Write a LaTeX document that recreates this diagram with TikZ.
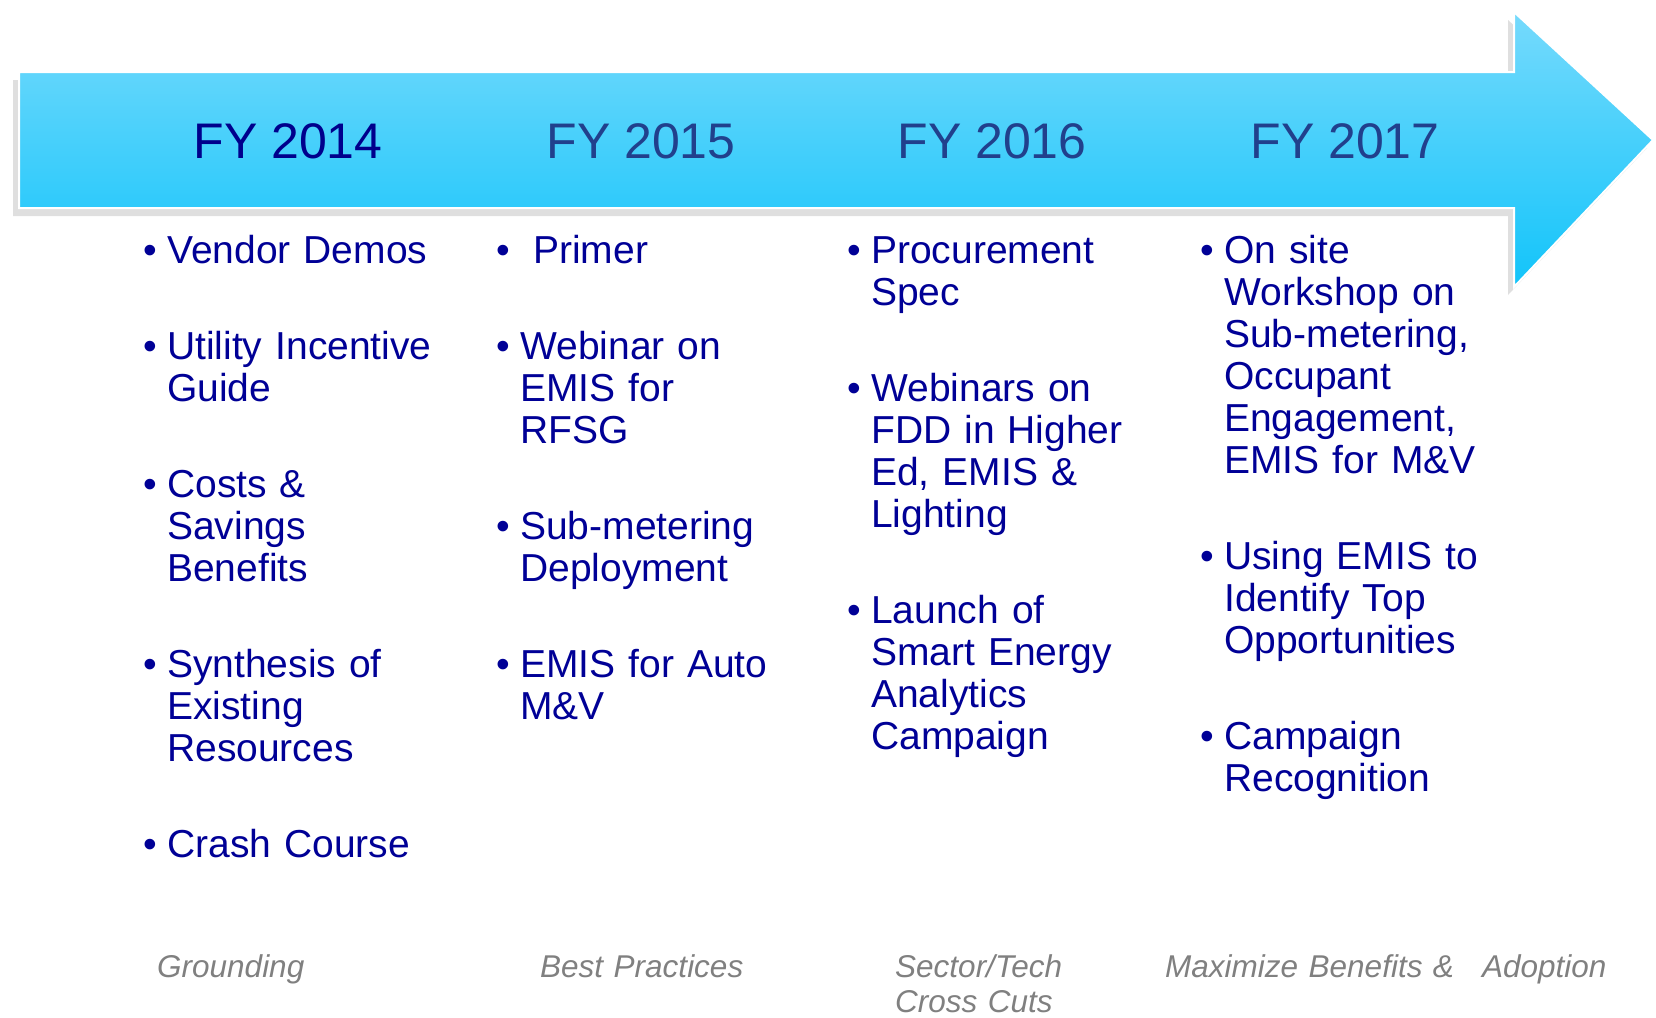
\documentclass[tikz,border=0pt]{standalone}
\usepackage{fontspec}
\setmainfont{Liberation Sans}
\usetikzlibrary{shadows}
\definecolor{itemblue}{RGB}{0,0,150}
\definecolor{yearblue}{RGB}{33,64,140}
\definecolor{yearnavy}{RGB}{0,0,140}
\definecolor{arrowtop}{RGB}{118,218,252}
\definecolor{arrowbot}{RGB}{18,196,250}
\newcommand\bul{\leavevmode\llap{\textbullet\hspace{10pt}}}
\newcommand\gap{\par\vspace{54pt}}
\begin{document}
\begin{tikzpicture}
    [x=1pt, y=-1pt,
    item/.style={anchor=base west, inner sep=0pt, text width=300pt, align=left,
      text=itemblue, font=\fontsize{39}{42}\selectfont},
    year/.style={anchor=base, inner sep=0pt, text=yearblue, font=\fontsize{50}{55}\selectfont},
    phase/.style={anchor=base west, inner sep=0pt, text width=500pt, align=left,
      text=gray, font=\fontsize{31.5}{35}\selectfont\itshape}]
    \useasboundingbox (0,0) rectangle (1656,1017);
    % timeline arrow
    \path[draw=white, line width=2pt, top color=arrowtop, bottom color=arrowbot,
      drop shadow={shadow xshift=-6pt, shadow yshift=-8pt, fill=black!25}]
      (19,72) -- (1514,72) -- (1514,12) -- (1653,140) -- (1514,287)
      -- (1514,208) -- (19,208) -- cycle;
    % years
    \node[year, text=yearnavy] (fy2014) at (288,158) {FY 2014};
    \foreach \yr/\x in {2015/641, 2016/992, 2017/1345}
      \node[year] (fy\yr) at (\x,158) {FY \yr};
    % activities
    \node[item] (list14) at (167,263) {\bul Vendor Demos\gap
      \bul Utility Incentive\\Guide\gap
      \bul Costs \&\\Savings\\Benefits\gap
      \bul Synthesis of\\Existing\\Resources\gap
      \bul Crash Course};
    \node[item] (list15) at (520,263) {\bul\ Primer\gap
      \bul Webinar on\\EMIS for\\RFSG\gap
      \bul Sub-metering\\Deployment\gap
      \bul EMIS for Auto\\M\&V};
    \node[item] (list16) at (871,263) {\bul Procurement\\Spec\gap
      \bul Webinars on\\FDD in Higher\\Ed, EMIS \&\\Lighting\gap
      \bul Launch of\\Smart Energy\\Analytics\\Campaign};
    \node[item] (list17) at (1224,263) {\bul On site\\Workshop on\\Sub-metering,\\Occupant\\Engagement,\\EMIS for M\&V\gap
      \bul Using EMIS to\\Identify Top\\Opportunities\gap
      \bul Campaign\\Recognition};
    % phases
    \node[phase] (ground) at (157,977) {Grounding};
    \node[phase] (best) at (540,977) {Best Practices};
    \node[phase] (sector) at (895,977) {Sector/Tech\\Cross Cuts};
    \node[phase] (adopt) at (1165,977) {Maximize Benefits \&\hspace{28pt}Adoption};
\end{tikzpicture}
\end{document}
